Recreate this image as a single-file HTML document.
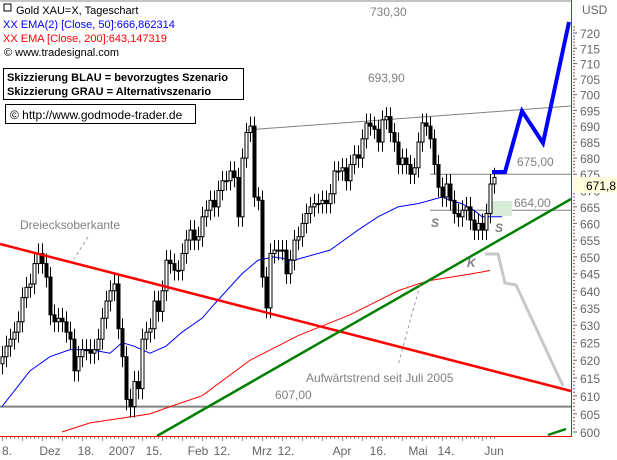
<!DOCTYPE html>
<html><head><meta charset="utf-8"><style>
body{margin:0;background:#fff;width:617px;height:460px;overflow:hidden;font-family:"Liberation Sans",sans-serif}
svg{display:block}
text{font-family:"Liberation Sans",sans-serif}
</style></head><body>
<svg id="c" width="617" height="460" xmlns="http://www.w3.org/2000/svg">
<rect x="0" y="0" width="617" height="460" fill="#fff"/>
<line x1="0" y1="1" x2="571" y2="1" stroke="#888"/>
<g id="plot"></g>
<g id="axes"></g>
<g font-size="11">
<rect x="4" y="4" width="7" height="7" fill="none" stroke="#000"/>
<text x="16" y="14" fill="#000">Gold XAU=X, Tageschart</text>
<text x="3" y="28" fill="#0000ff">XX EMA(2) [Close, 50]:666,862314</text>
<text x="3" y="42" fill="#ff0000">XX EMA [Close, 200]:643,147319</text>
<text x="4" y="56" fill="#000">© www.tradesignal.com</text>
</g>
<g>
<rect x="3.5" y="68.5" width="240" height="31" fill="#fff" stroke="#000"/>
<text x="7" y="81" font-size="11" font-weight="bold">Skizzierung BLAU = bevorzugtes Szenario</text>
<text x="7" y="95" font-size="11" font-weight="bold">Skizzierung GRAU = Alternativszenario</text>
</g>
<g>
<rect x="5.5" y="104.5" width="190" height="19" fill="#fff" stroke="#000"/>
<text x="10" y="119" font-size="12">© http://www.godmode-trader.de</text>
</g>
</svg>
<script>
const closes=[621,624,626,628,631,638,641,642,648,651,648,644,633,631,632,631,628,626,617,621,623,623,622,623,626,632,637,640,642,629,621,609,607,614,612,626,628,629,637,634,640,649,648,646,646,651,655,658,655,656,662,664,667,665,670,673,673,676,674,662,680,688,690,668,667,644,635,651,652,652,652,645,649,655,656,660,663,665,666,666,667,666,669,676,676,677,673,678,681,680,686,691,690,689,685,692,693,688,685,678,680,678,675,677,685,691,690,686,678,671,668,672,667,663,662,664,665,661,658,660,658,663,672,674];
const emaIdx=[0,7,12,17,22,27,30,33,37,41,45,50,53,60,64,68,73,82,89,94,99,104,107,110,112,115,118,120,122,125];
const ema50=[607,617,621,623,623,622,625,624,622,624,628,632,636,645,649,650,649,652,658,662,665,666,667,668,667,666,664,662,662,662];
const e200Idx=[15,22,31,37,42,50,62,74,87,99,104,107,115,120,122];
const ema200=[600,602.5,604,605,607,610,620,627,633,640,642,643,644.5,645.5,646];
const tickLabels=["8.","Dez","18.","2007","15.","Feb","12.","Mrz","12.","Apr","16.","Mai","14.","Jun"];
const tickIdx=[0,12,21,30,38,49,55,65,71,85,94,104,111,123];
const yTicks=[600,605,610,615,620,625,630,635,640,645,650,655,660,665,670,675,680,685,690,695,700,705,710,715,720];

const NS="http://www.w3.org/2000/svg";
const plot=document.getElementById('plot'),axes=document.getElementById('axes');
const Y=v=>432-Math.log(v/600)/Math.log(1.2)*399;
const X=i=>2+i*4;
function mk(tag,at,parent){const e=document.createElementNS(NS,tag);for(const k in at)e.setAttribute(k,at[k]);(parent||plot).appendChild(e);return e;}

// horizontal support 607
let l=mk('line',{x1:0,y1:Y(607),x2:571,y2:Y(607),stroke:'#808080','stroke-width':2});


// resistance line
l=mk('line',{x1:246,y1:130,x2:571,y2:106,stroke:'#808080','stroke-width':1});


l=mk('line',{x1:430,y1:Y(675),x2:571,y2:Y(675),stroke:'#808080','stroke-width':1});


l=mk('line',{x1:430,y1:Y(664),x2:571,y2:Y(664),stroke:'#808080','stroke-width':1});


l=mk('rect',{x:487,y:201,width:25,height:15,fill:'#d6ecd6'});



// EMA lines
let p=mk('polyline',{points:emaIdx.map((d,k)=>X(d)+','+Y(ema50[k])).join(' '),fill:'none',stroke:'#0000ff','stroke-width':1});


p=mk('polyline',{points:e200Idx.map((d,k)=>X(d)+','+Y(ema200[k])).join(' '),fill:'none',stroke:'#ff0000','stroke-width':1});



// candles
for(let i=0;i<closes.length;i++){
  const c=closes[i],o=i?closes[i-1]:c-2;
  const hi=Math.max(o,c)+3,lo=Math.min(o,c)-3;
  const g=mk('g',{});
  
  
  mk('line',{x1:X(i)+0.5,y1:Y(hi),x2:X(i)+0.5,y2:Y(lo),stroke:'#000'},g);
  const top=Y(Math.max(o,c)),h=Math.max(1,Y(Math.min(o,c))-top);
  mk('rect',{x:X(i)-1,y:top,width:3,height:h,fill:c>=o?'#fff':'#000',stroke:'#000','stroke-width':1},g);
}

// trend lines
l=mk('line',{x1:0,y1:244,x2:571,y2:391,stroke:'#ff0000','stroke-width':2.5});


l=mk('line',{x1:157,y1:436,x2:571,y2:199,stroke:'#008000','stroke-width':2.5});


l=mk('line',{x1:548,y1:435,x2:566,y2:429,stroke:'#008000','stroke-width':2.5});


// scenarios
p=mk('polyline',{points:'492,172 505,172 522,111 543,143 569,22',fill:'none',stroke:'#0000ff','stroke-width':4});


p=mk('polyline',{points:'485,254 498,254 505,283 516,285 563,386',fill:'none',stroke:'#c8c8c8','stroke-width':3});


// dashed annotations
l=mk('line',{x1:88,y1:237,x2:74,y2:259,stroke:'#999','stroke-dasharray':'3,3'});


l=mk('line',{x1:420,y1:285,x2:398,y2:365,stroke:'#999','stroke-dasharray':'3,3'});



// texts
const T=[["Dreiecksoberkante",20,229,12,'normal','normal'],["Aufwärtstrend seit Juli 2005",306,382,12,'normal','normal'],["607,00",275,399,12,'normal','normal'],["693,90",368,82,12,'normal','normal'],["730,30",370,16,12,'normal','normal'],["675,00",517,166,12,'normal','normal'],["664,00",514,207,12,'normal','normal'],["S",431,227,12,'bold','italic'],["S",495,232,12,'bold','italic'],["K",467,267,12,'bold','italic']];
T.forEach(t=>{const e=mk('text',{x:t[1],y:t[2],'font-size':t[3],'font-weight':t[4],'font-style':t[5],fill:'#808080'});e.textContent=t[0];

});

// axes frame
l=mk('line',{x1:571.5,y1:0,x2:571.5,y2:437,stroke:'#ff0000'},axes);


l=mk('line',{x1:0,y1:436.5,x2:572,y2:436.5,stroke:'#ff0000'},axes);


for(let v=600;v<=722;v++){mk('line',{x1:573,y1:Y(v),x2:v%5?575:577,y2:Y(v),stroke:'#666'},axes);}
yTicks.forEach(v=>{const e=mk('text',{x:580,y:Y(v)+5,'font-size':12,fill:'#666'},axes);e.textContent=v;

});
let e=mk('text',{x:582,y:14,'font-size':12,fill:'#666'},axes);e.textContent='USD';


// price tag
const pg=mk('g',{},axes);


mk('rect',{x:573,y:177,width:44,height:16,fill:'#ffffe0'},pg);
const pt=mk('text',{x:586,y:190,'font-size':12,fill:'#000'},pg);pt.textContent='671,8';
for(let i=0;i<124;i++){mk('line',{x1:X(i)+0.5,y1:437,x2:X(i)+0.5,y2:i%5?439:441,stroke:'#888'},axes);}
tickLabels.forEach((t,k)=>{const e=mk('text',{x:X(tickIdx[k]),y:455,'font-size':12,fill:'#666','text-anchor':k?'middle':'start'},axes);e.textContent=t;

});
</script>
</body></html>
